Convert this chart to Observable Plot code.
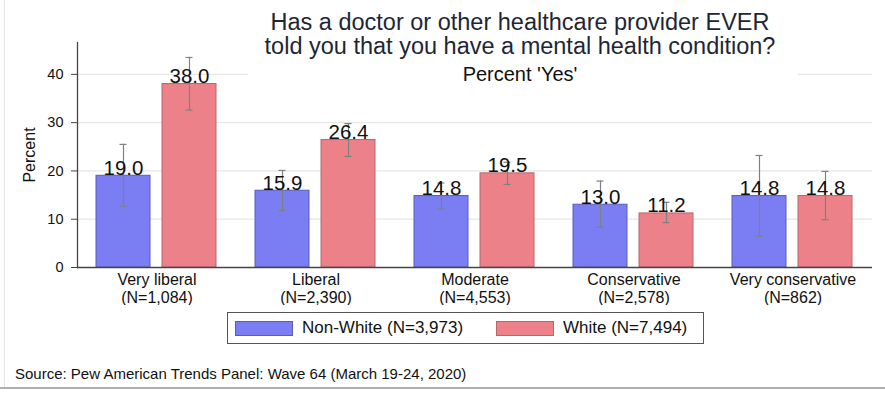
<!DOCTYPE html>
<html>
<head>
<meta charset="utf-8">
<script src="https://cdn.jsdelivr.net/npm/d3@7"></script>
<script src="https://cdn.jsdelivr.net/npm/@observablehq/plot@0.6"></script>
<style>
  html, body { margin: 0; padding: 0; background: #fff; }
  body { font-family: "Liberation Sans", Arial, Helvetica, sans-serif; }
  #wrap { position: relative; width: 885px; height: 394px; overflow: hidden; background: #fff; }
  #chart { position: absolute; left: 0; top: 0; }
  #titlebg { position: absolute; left: 248px; top: 60px; width: 550px; height: 30px; background: #fff; }
  #title { position: absolute; left: 220px; top: 10px; width: 600px; text-align: center; color: #1e2636; white-space: nowrap; }
  #title .t { font-size: 23.5px; line-height: 24px; }
  #title .s { font-size: 20px; line-height: 20px; margin-top: 6px; color: #111; }
  #legend { position: absolute; left: 227px; top: 312px; width: 475px; height: 30px;
            border: 1px solid #555; font-size: 17px; color: #111; }
  #legend .item { display: flex; align-items: center; position: absolute; top: 0; height: 30px; }
  #legend .sw { width: 56px; height: 13px; border: 1px solid; margin-right: 9px; }
  #source { position: absolute; left: 15px; top: 365px; font-size: 15px; color: #111; }
  #frameL { position: absolute; left: 4px; top: 0; width: 1px; height: 388px; background: #e6e6e6; }
  #frameB { position: absolute; left: 0; top: 387px; width: 885px; height: 2px; background: #b0b0b0; }
</style>
</head>
<body>
<div id="wrap">
  <div id="frameL"></div>
  <div id="chart"></div>
  <div id="titlebg"></div>
  <div id="title">
    <div class="t">Has a doctor or other healthcare provider EVER</div>
    <div class="t">told you that you have a mental health condition?</div>
    <div class="s">Percent 'Yes'</div>
  </div>
  <div id="legend"></div>
  <div id="source">Source: Pew American Trends Panel: Wave 64 (March 19-24, 2020)</div>
  <div id="frameB"></div>
</div>
<script>
const categories = ["Very liberal", "Liberal", "Moderate", "Conservative", "Very conservative"];
const categoryN = ["(N=1,084)", "(N=2,390)", "(N=4,553)", "(N=2,578)", "(N=862)"];
const series = ["Non-White (N=3,973)", "White (N=7,494)"];
const nonWhite = [19.0, 15.9, 14.8, 13.0, 14.8];
const white = [38.0, 26.4, 19.5, 11.2, 14.8];
const nonWhiteLow = [12.7, 11.8, 12.1, 8.3, 6.5];
const nonWhiteHigh = [25.5, 20.1, 17.5, 17.9, 23.2];
const whiteLow = [32.6, 23.0, 17.2, 9.3, 9.9];
const whiteHigh = [43.5, 29.8, 21.8, 13.5, 19.9];
const yTicks = [0, 10, 20, 30, 40];
const colors = ["#7a7ef2", "#ec8189"];
const strokes = ["#5a5cb8", "#b8666c"];

const rows = [];
categories.forEach((c, i) => {
  rows.push({cat: c, s: series[0], v: nonWhite[i], lo: nonWhiteLow[i], hi: nonWhiteHigh[i]});
  rows.push({cat: c, s: series[1], v: white[i], lo: whiteLow[i], hi: whiteHigh[i]});
});

const chart = Plot.plot({
  width: 885,
  height: 305,
  marginLeft: 76,
  marginRight: 12,
  marginTop: 42,
  marginBottom: 38,
  style: {fontFamily: "'Liberation Sans', Arial, sans-serif", color: "#111", background: "transparent"},
  fx: {domain: categories, padding: 0},
  x: {domain: series, paddingInner: 0.18, paddingOuter: 0.28, axis: null},
  y: {domain: [0, 46.6]},
  color: {domain: series, range: colors},
  marks: [
    Plot.ruleY(yTicks.slice(1), {stroke: "#e6e6e6", strokeWidth: 1.2}),
    Plot.barY(rows, {fx: "cat", x: "s", y: "v", fill: "s", stroke: (d) => strokes[series.indexOf(d.s)], strokeWidth: 1}),
    Plot.ruleX(rows, {fx: "cat", x: "s", y1: "lo", y2: "hi", stroke: "#808080", strokeWidth: 1.2}),
    Plot.tickY(rows, {fx: "cat", x: "s", y: "lo", stroke: "#808080", strokeWidth: 1.2, insetLeft: 23.5, insetRight: 23.5}),
    Plot.tickY(rows, {fx: "cat", x: "s", y: "hi", stroke: "#808080", strokeWidth: 1.2, insetLeft: 23.5, insetRight: 23.5}),
    Plot.text(rows, {fx: "cat", x: "s", y: "v", text: (d) => d.v.toFixed(1), lineAnchor: "bottom", dy: -1, fontSize: 20.5, fill: "#111"}),
    Plot.ruleY([0], {stroke: "#444", strokeWidth: 1.3}),
    Plot.frame({anchor: "left", facetAnchor: "left", stroke: "#444", strokeWidth: 1.3}),
    Plot.axisY({ticks: yTicks, tickSize: 6, tickPadding: 8, fontSize: 14.5, stroke: "#444", label: null}),
    Plot.axisY({ticks: [], tickSize: 0, fontSize: 16, label: "Percent", labelAnchor: "center", labelArrow: "none", labelOffset: 54}),
    Plot.axisFx({anchor: "bottom", tickSize: 0, tickPadding: 5, fontSize: 16, lineHeight: 1.1, label: null,
      tickFormat: (d) => d + "\n" + categoryN[categories.indexOf(d)]})
  ]
});
document.getElementById("chart").appendChild(chart);

const legend = document.getElementById("legend");
const legendX = [7, 268];
series.forEach((s, i) => {
  const item = document.createElement("div");
  item.className = "item";
  item.style.left = legendX[i] + "px";
  const sw = document.createElement("div");
  sw.className = "sw";
  sw.style.background = colors[i];
  sw.style.borderColor = strokes[i];
  const lab = document.createElement("span");
  lab.textContent = s;
  item.appendChild(sw);
  item.appendChild(lab);
  legend.appendChild(item);
});
</script>
</body>
</html>
